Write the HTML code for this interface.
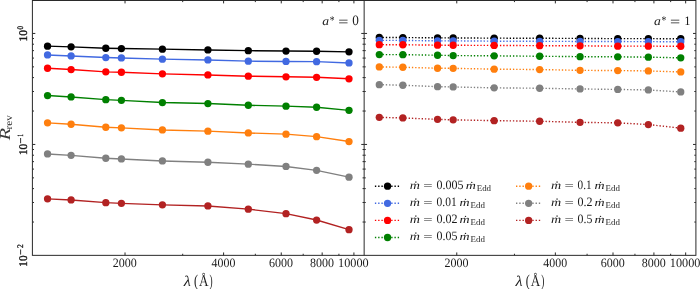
<!DOCTYPE html><html><head><meta charset="utf-8"><title>R_rev vs wavelength</title><style>html,body{margin:0;padding:0;background:#fff;width:700px;height:289px;overflow:hidden}svg{display:block;will-change:transform}text{font-family:"Liberation Serif",serif;text-rendering:geometricPrecision}</style></head><body>
<svg width="700" height="289" viewBox="0 0 700 289">
<defs><clipPath id="c0"><rect x="32.4" y="0.5" width="331.75" height="254.85"/></clipPath><clipPath id="c1"><rect x="364.15" y="0.5" width="331.75" height="254.85"/></clipPath></defs>
<rect width="700" height="289" fill="#fff"/>
<g clip-path="url(#c0)">
<polyline points="47.55,46.15 71.1,46.85 105.8,48.25 121.4,48.55 162.4,49.15 207.9,49.95 248.3,50.65 286,51.05 316.6,51.25 349,51.85" fill="none" stroke="#000000" stroke-width="1.4"/>
<g fill="#000000"><circle cx="47.55" cy="46.15" r="3.65"/><circle cx="71.1" cy="46.85" r="3.65"/><circle cx="105.8" cy="48.25" r="3.65"/><circle cx="121.4" cy="48.55" r="3.65"/><circle cx="162.4" cy="49.15" r="3.65"/><circle cx="207.9" cy="49.95" r="3.65"/><circle cx="248.3" cy="50.65" r="3.65"/><circle cx="286" cy="51.05" r="3.65"/><circle cx="316.6" cy="51.25" r="3.65"/><circle cx="349" cy="51.85" r="3.65"/></g>
<polyline points="47.55,54.95 71.1,55.95 105.8,57.55 121.4,57.95 162.4,59.15 207.9,59.95 248.3,61.15 286,61.45 316.6,61.65 349,62.95" fill="none" stroke="#4169e1" stroke-width="1.4"/>
<g fill="#4169e1"><circle cx="47.55" cy="54.95" r="3.65"/><circle cx="71.1" cy="55.95" r="3.65"/><circle cx="105.8" cy="57.55" r="3.65"/><circle cx="121.4" cy="57.95" r="3.65"/><circle cx="162.4" cy="59.15" r="3.65"/><circle cx="207.9" cy="59.95" r="3.65"/><circle cx="248.3" cy="61.15" r="3.65"/><circle cx="286" cy="61.45" r="3.65"/><circle cx="316.6" cy="61.65" r="3.65"/><circle cx="349" cy="62.95" r="3.65"/></g>
<polyline points="47.55,68.25 71.1,69.55 105.8,71.85 121.4,72.25 162.4,73.85 207.9,74.95 248.3,76.2 286,76.8 316.6,77.3 349,78.8" fill="none" stroke="#ff0000" stroke-width="1.4"/>
<g fill="#ff0000"><circle cx="47.55" cy="68.25" r="3.65"/><circle cx="71.1" cy="69.55" r="3.65"/><circle cx="105.8" cy="71.85" r="3.65"/><circle cx="121.4" cy="72.25" r="3.65"/><circle cx="162.4" cy="73.85" r="3.65"/><circle cx="207.9" cy="74.95" r="3.65"/><circle cx="248.3" cy="76.2" r="3.65"/><circle cx="286" cy="76.8" r="3.65"/><circle cx="316.6" cy="77.3" r="3.65"/><circle cx="349" cy="78.8" r="3.65"/></g>
<polyline points="47.55,95.55 71.1,96.95 105.8,99.65 121.4,100.35 162.4,102.55 207.9,103.55 248.3,105.25 286,106.15 316.6,107.25 349,110.35" fill="none" stroke="#008000" stroke-width="1.4"/>
<g fill="#008000"><circle cx="47.55" cy="95.55" r="3.65"/><circle cx="71.1" cy="96.95" r="3.65"/><circle cx="105.8" cy="99.65" r="3.65"/><circle cx="121.4" cy="100.35" r="3.65"/><circle cx="162.4" cy="102.55" r="3.65"/><circle cx="207.9" cy="103.55" r="3.65"/><circle cx="248.3" cy="105.25" r="3.65"/><circle cx="286" cy="106.15" r="3.65"/><circle cx="316.6" cy="107.25" r="3.65"/><circle cx="349" cy="110.35" r="3.65"/></g>
<polyline points="47.55,122.85 71.1,124.25 105.8,127.25 121.4,127.85 162.4,129.95 207.9,131.15 248.3,132.95 286,134.15 316.6,136.65 349,141.55" fill="none" stroke="#ff7f0e" stroke-width="1.4"/>
<g fill="#ff7f0e"><circle cx="47.55" cy="122.85" r="3.65"/><circle cx="71.1" cy="124.25" r="3.65"/><circle cx="105.8" cy="127.25" r="3.65"/><circle cx="121.4" cy="127.85" r="3.65"/><circle cx="162.4" cy="129.95" r="3.65"/><circle cx="207.9" cy="131.15" r="3.65"/><circle cx="248.3" cy="132.95" r="3.65"/><circle cx="286" cy="134.15" r="3.65"/><circle cx="316.6" cy="136.65" r="3.65"/><circle cx="349" cy="141.55" r="3.65"/></g>
<polyline points="47.55,153.95 71.1,155.35 105.8,158.25 121.4,158.95 162.4,160.95 207.9,162.25 248.3,164.15 286,166.45 316.6,170.35 349,177.15" fill="none" stroke="#808080" stroke-width="1.4"/>
<g fill="#808080"><circle cx="47.55" cy="153.95" r="3.65"/><circle cx="71.1" cy="155.35" r="3.65"/><circle cx="105.8" cy="158.25" r="3.65"/><circle cx="121.4" cy="158.95" r="3.65"/><circle cx="162.4" cy="160.95" r="3.65"/><circle cx="207.9" cy="162.25" r="3.65"/><circle cx="248.3" cy="164.15" r="3.65"/><circle cx="286" cy="166.45" r="3.65"/><circle cx="316.6" cy="170.35" r="3.65"/><circle cx="349" cy="177.15" r="3.65"/></g>
<polyline points="47.55,198.85 71.1,199.95 105.8,202.65 121.4,203.35 162.4,204.85 207.9,205.95 248.3,209.15 286,213.65 316.6,220.05 349,229.65" fill="none" stroke="#b22222" stroke-width="1.4"/>
<g fill="#b22222"><circle cx="47.55" cy="198.85" r="3.65"/><circle cx="71.1" cy="199.95" r="3.65"/><circle cx="105.8" cy="202.65" r="3.65"/><circle cx="121.4" cy="203.35" r="3.65"/><circle cx="162.4" cy="204.85" r="3.65"/><circle cx="207.9" cy="205.95" r="3.65"/><circle cx="248.3" cy="209.15" r="3.65"/><circle cx="286" cy="213.65" r="3.65"/><circle cx="316.6" cy="220.05" r="3.65"/><circle cx="349" cy="229.65" r="3.65"/></g>
</g>
<g clip-path="url(#c1)">
<polyline points="379.3,37.45 402.85,37.55 437.55,37.85 453.15,37.95 494.15,38.15 539.65,38.25 580.05,38.45 617.75,38.65 648.35,38.65 680.75,38.75" fill="none" stroke="#000000" stroke-width="1.4" stroke-dasharray="1.35 1.91"/>
<g fill="#000000"><circle cx="379.3" cy="37.45" r="3.65"/><circle cx="402.85" cy="37.55" r="3.65"/><circle cx="437.55" cy="37.85" r="3.65"/><circle cx="453.15" cy="37.95" r="3.65"/><circle cx="494.15" cy="38.15" r="3.65"/><circle cx="539.65" cy="38.25" r="3.65"/><circle cx="580.05" cy="38.45" r="3.65"/><circle cx="617.75" cy="38.65" r="3.65"/><circle cx="648.35" cy="38.65" r="3.65"/><circle cx="680.75" cy="38.75" r="3.65"/></g>
<polyline points="379.3,40.35 402.85,40.45 437.55,40.85 453.15,40.85 494.15,41.15 539.65,41.35 580.05,41.45 617.75,41.55 648.35,41.65 680.75,41.75" fill="none" stroke="#4169e1" stroke-width="1.4" stroke-dasharray="1.35 1.91"/>
<g fill="#4169e1"><circle cx="379.3" cy="40.35" r="3.65"/><circle cx="402.85" cy="40.45" r="3.65"/><circle cx="437.55" cy="40.85" r="3.65"/><circle cx="453.15" cy="40.85" r="3.65"/><circle cx="494.15" cy="41.15" r="3.65"/><circle cx="539.65" cy="41.35" r="3.65"/><circle cx="580.05" cy="41.45" r="3.65"/><circle cx="617.75" cy="41.55" r="3.65"/><circle cx="648.35" cy="41.65" r="3.65"/><circle cx="680.75" cy="41.75" r="3.65"/></g>
<polyline points="379.3,44.65 402.85,44.75 437.55,45.15 453.15,45.25 494.15,45.45 539.65,45.65 580.05,45.85 617.75,46.15 648.35,46.15 680.75,46.25" fill="none" stroke="#ff0000" stroke-width="1.4" stroke-dasharray="1.35 1.91"/>
<g fill="#ff0000"><circle cx="379.3" cy="44.65" r="3.65"/><circle cx="402.85" cy="44.75" r="3.65"/><circle cx="437.55" cy="45.15" r="3.65"/><circle cx="453.15" cy="45.25" r="3.65"/><circle cx="494.15" cy="45.45" r="3.65"/><circle cx="539.65" cy="45.65" r="3.65"/><circle cx="580.05" cy="45.85" r="3.65"/><circle cx="617.75" cy="46.15" r="3.65"/><circle cx="648.35" cy="46.15" r="3.65"/><circle cx="680.75" cy="46.25" r="3.65"/></g>
<polyline points="379.3,54.55 402.85,54.65 437.55,55.25 453.15,55.55 494.15,55.85 539.65,56.25 580.05,56.65 617.75,56.85 648.35,57.15 680.75,57.85" fill="none" stroke="#008000" stroke-width="1.4" stroke-dasharray="1.35 1.91"/>
<g fill="#008000"><circle cx="379.3" cy="54.55" r="3.65"/><circle cx="402.85" cy="54.65" r="3.65"/><circle cx="437.55" cy="55.25" r="3.65"/><circle cx="453.15" cy="55.55" r="3.65"/><circle cx="494.15" cy="55.85" r="3.65"/><circle cx="539.65" cy="56.25" r="3.65"/><circle cx="580.05" cy="56.65" r="3.65"/><circle cx="617.75" cy="56.85" r="3.65"/><circle cx="648.35" cy="57.15" r="3.65"/><circle cx="680.75" cy="57.85" r="3.65"/></g>
<polyline points="379.3,66.95 402.85,67.25 437.55,68.25 453.15,68.35 494.15,69.15 539.65,69.55 580.05,70.35 617.75,70.55 648.35,70.95 680.75,71.95" fill="none" stroke="#ff7f0e" stroke-width="1.4" stroke-dasharray="1.35 1.91"/>
<g fill="#ff7f0e"><circle cx="379.3" cy="66.95" r="3.65"/><circle cx="402.85" cy="67.25" r="3.65"/><circle cx="437.55" cy="68.25" r="3.65"/><circle cx="453.15" cy="68.35" r="3.65"/><circle cx="494.15" cy="69.15" r="3.65"/><circle cx="539.65" cy="69.55" r="3.65"/><circle cx="580.05" cy="70.35" r="3.65"/><circle cx="617.75" cy="70.55" r="3.65"/><circle cx="648.35" cy="70.95" r="3.65"/><circle cx="680.75" cy="71.95" r="3.65"/></g>
<polyline points="379.3,84.65 402.85,85.25 437.55,86.65 453.15,86.95 494.15,87.85 539.65,88.25 580.05,88.95 617.75,89.45 648.35,89.95 680.75,91.95" fill="none" stroke="#808080" stroke-width="1.4" stroke-dasharray="1.35 1.91"/>
<g fill="#808080"><circle cx="379.3" cy="84.65" r="3.65"/><circle cx="402.85" cy="85.25" r="3.65"/><circle cx="437.55" cy="86.65" r="3.65"/><circle cx="453.15" cy="86.95" r="3.65"/><circle cx="494.15" cy="87.85" r="3.65"/><circle cx="539.65" cy="88.25" r="3.65"/><circle cx="580.05" cy="88.95" r="3.65"/><circle cx="617.75" cy="89.45" r="3.65"/><circle cx="648.35" cy="89.95" r="3.65"/><circle cx="680.75" cy="91.95" r="3.65"/></g>
<polyline points="379.3,117.35 402.85,117.95 437.55,119.35 453.15,119.85 494.15,120.65 539.65,121.25 580.05,122.35 617.75,122.85 648.35,124.55 680.75,128.15" fill="none" stroke="#b22222" stroke-width="1.4" stroke-dasharray="1.35 1.91"/>
<g fill="#b22222"><circle cx="379.3" cy="117.35" r="3.65"/><circle cx="402.85" cy="117.95" r="3.65"/><circle cx="437.55" cy="119.35" r="3.65"/><circle cx="453.15" cy="119.85" r="3.65"/><circle cx="494.15" cy="120.65" r="3.65"/><circle cx="539.65" cy="121.25" r="3.65"/><circle cx="580.05" cy="122.35" r="3.65"/><circle cx="617.75" cy="122.85" r="3.65"/><circle cx="648.35" cy="124.55" r="3.65"/><circle cx="680.75" cy="128.15" r="3.65"/></g>
</g>
<path d="M125.03 255.35v-2.9M125.03 0.5v2.9M182.69 255.35v-1.6M182.69 0.5v1.6M223.6 255.35v-2.9M223.6 0.5v2.9M255.34 255.35v-1.6M255.34 0.5v1.6M281.26 255.35v-2.9M281.26 0.5v2.9M303.19 255.35v-1.6M303.19 0.5v1.6M322.17 255.35v-2.9M322.17 0.5v2.9M338.92 255.35v-1.6M338.92 0.5v1.6M353.91 255.35v-2.9M353.91 0.5v2.9M32.4 33.45h2.9M364.15 33.45h-2.9M32.4 144.45h2.9M364.15 144.45h-2.9M32.4 111.04h1.6M364.15 111.04h-1.6M32.4 91.49h1.6M364.15 91.49h-1.6M32.4 77.62h1.6M364.15 77.62h-1.6M32.4 66.86h1.6M364.15 66.86h-1.6M32.4 58.08h1.6M364.15 58.08h-1.6M32.4 50.64h1.6M364.15 50.64h-1.6M32.4 44.21h1.6M364.15 44.21h-1.6M32.4 38.53h1.6M364.15 38.53h-1.6M32.4 222.04h1.6M364.15 222.04h-1.6M32.4 202.49h1.6M364.15 202.49h-1.6M32.4 188.62h1.6M364.15 188.62h-1.6M32.4 177.86h1.6M364.15 177.86h-1.6M32.4 169.08h1.6M364.15 169.08h-1.6M32.4 161.64h1.6M364.15 161.64h-1.6M32.4 155.21h1.6M364.15 155.21h-1.6M32.4 149.53h1.6M364.15 149.53h-1.6M456.78 255.35v-2.9M456.78 0.5v2.9M514.44 255.35v-1.6M514.44 0.5v1.6M555.35 255.35v-2.9M555.35 0.5v2.9M587.09 255.35v-1.6M587.09 0.5v1.6M613.01 255.35v-2.9M613.01 0.5v2.9M634.94 255.35v-1.6M634.94 0.5v1.6M653.92 255.35v-2.9M653.92 0.5v2.9M670.67 255.35v-1.6M670.67 0.5v1.6M685.66 255.35v-2.9M685.66 0.5v2.9M364.15 33.45h2.9M695.9 33.45h-2.9M364.15 144.45h2.9M695.9 144.45h-2.9M364.15 111.04h1.6M695.9 111.04h-1.6M364.15 91.49h1.6M695.9 91.49h-1.6M364.15 77.62h1.6M695.9 77.62h-1.6M364.15 66.86h1.6M695.9 66.86h-1.6M364.15 58.08h1.6M695.9 58.08h-1.6M364.15 50.64h1.6M695.9 50.64h-1.6M364.15 44.21h1.6M695.9 44.21h-1.6M364.15 38.53h1.6M695.9 38.53h-1.6M364.15 222.04h1.6M695.9 222.04h-1.6M364.15 202.49h1.6M695.9 202.49h-1.6M364.15 188.62h1.6M695.9 188.62h-1.6M364.15 177.86h1.6M695.9 177.86h-1.6M364.15 169.08h1.6M695.9 169.08h-1.6M364.15 161.64h1.6M695.9 161.64h-1.6M364.15 155.21h1.6M695.9 155.21h-1.6M364.15 149.53h1.6M695.9 149.53h-1.6" stroke="#2a2a2a" stroke-width="1.0" fill="none"/>
<rect x="32.4" y="0.5" width="663.5" height="254.85" fill="none" stroke="#2a2a2a" stroke-width="1.0"/>
<path d="M364.15 0.5V255.35" stroke="#2a2a2a" stroke-width="1.0"/>
<text transform="translate(112.75 266.93) scale(0.9450 1.0000)" font-size="12.74" fill="#1a1a1a">2000</text>
<text transform="translate(211.62 266.93) scale(0.9332 1.0000)" font-size="12.74" fill="#1a1a1a">4000</text>
<text transform="translate(269 266.93) scale(0.9446 1.0000)" font-size="12.74" fill="#1a1a1a">6000</text>
<text transform="translate(309.97 266.93) scale(0.9422 1.0000)" font-size="12.74" fill="#1a1a1a">8000</text>
<text transform="translate(338.08 266.93) scale(0.9618 1.0000)" font-size="12.74" fill="#1a1a1a">10000</text>
<text transform="translate(183.65 285.65) scale(1.1111 1.0000)" font-size="14.77" font-style="italic" fill="#1a1a1a">λ</text>
<text transform="translate(194.02 285.63) scale(0.7296 1.0000)" font-size="16.54" fill="#1a1a1a">(</text>
<text transform="translate(198.92 285.65) scale(0.8192 1.0000)" font-size="16.1" fill="#1a1a1a">Å</text>
<text transform="translate(209.45 285.63) scale(0.5649 1.0000)" font-size="16.54" fill="#1a1a1a">)</text>
<text transform="translate(444.5 266.93) scale(0.9450 1.0000)" font-size="12.74" fill="#1a1a1a">2000</text>
<text transform="translate(543.37 266.93) scale(0.9332 1.0000)" font-size="12.74" fill="#1a1a1a">4000</text>
<text transform="translate(600.75 266.93) scale(0.9446 1.0000)" font-size="12.74" fill="#1a1a1a">6000</text>
<text transform="translate(641.72 266.93) scale(0.9422 1.0000)" font-size="12.74" fill="#1a1a1a">8000</text>
<text transform="translate(669.83 266.93) scale(0.9618 1.0000)" font-size="12.74" fill="#1a1a1a">10000</text>
<text transform="translate(515.4 285.65) scale(1.1111 1.0000)" font-size="14.77" font-style="italic" fill="#1a1a1a">λ</text>
<text transform="translate(525.77 285.63) scale(0.7296 1.0000)" font-size="16.54" fill="#1a1a1a">(</text>
<text transform="translate(530.67 285.65) scale(0.8192 1.0000)" font-size="16.1" fill="#1a1a1a">Å</text>
<text transform="translate(541.2 285.63) scale(0.5649 1.0000)" font-size="16.54" fill="#1a1a1a">)</text>
<text transform="translate(27.04 41.45) rotate(-90) scale(0.9675 1.0000)" font-size="11.71" fill="#1a1a1a" stroke="#1a1a1a" stroke-width="0.35">10</text>
<text transform="translate(22.77 29.62) rotate(-90) scale(0.8529 1.0000)" font-size="8.3" fill="#1a1a1a" stroke="#1a1a1a" stroke-width="0.35">0</text>
<text transform="translate(27.04 155.08) rotate(-90) scale(0.9480 1.0000)" font-size="11.71" fill="#1a1a1a" stroke="#1a1a1a" stroke-width="0.35">10</text>
<text transform="translate(23.83 143.57) rotate(-90) scale(1.0489 1.0000)" font-size="10.04" fill="#1a1a1a" stroke="#1a1a1a" stroke-width="0.35">−</text>
<text transform="translate(22.55 136.45) rotate(-90) scale(0.5556 1.0000)" font-size="8.18" fill="#1a1a1a" stroke="#1a1a1a" stroke-width="0.35">1</text>
<text transform="translate(27.04 266.69) rotate(-90) scale(0.9578 1.0000)" font-size="11.71" fill="#1a1a1a" stroke="#1a1a1a" stroke-width="0.35">10</text>
<text transform="translate(23.83 254.79) rotate(-90) scale(0.9847 1.0000)" font-size="10.04" fill="#1a1a1a" stroke="#1a1a1a" stroke-width="0.35">−</text>
<text transform="translate(22.55 248.08) rotate(-90) scale(0.8848 1.0000)" font-size="8.46" fill="#1a1a1a" stroke="#1a1a1a" stroke-width="0.35">2</text>
<text transform="translate(10.35 140.34) rotate(-90) scale(1.3213 1.0000)" font-size="15.27" font-style="italic" fill="#3a3a3a">R</text>
<text transform="translate(12.35 129.47) rotate(-90) scale(1.1241 1.0000)" font-size="9.98" fill="#1a1a1a">rev</text>
<text transform="translate(322.24 24.62) scale(1.1117 1.0000)" font-size="12.27" font-style="italic" fill="#1a1a1a">a</text>
<text transform="translate(329.68 24.03) scale(0.8246 1.0000)" font-size="11.73" fill="#1a1a1a">*</text>
<text transform="translate(338.25 26.27) scale(1.3273 1.0000)" font-size="13.6" fill="#1a1a1a">=</text>
<text transform="translate(654.04 24.62) scale(1.1117 1.0000)" font-size="12.27" font-style="italic" fill="#1a1a1a">a</text>
<text transform="translate(661.48 24.03) scale(0.8246 1.0000)" font-size="11.73" fill="#1a1a1a">*</text>
<text transform="translate(670.05 26.27) scale(1.3273 1.0000)" font-size="13.6" fill="#1a1a1a">=</text>
<text transform="translate(352.15 25.11) scale(0.9288 1.0000)" font-size="14.23" fill="#1a1a1a">0</text>
<text transform="translate(684.15 24.75) scale(0.9707 1.0000)" font-size="12.88" fill="#1a1a1a">1</text>
<path d="M374.9 186.2H400.2" stroke="#000000" stroke-width="1.4" stroke-dasharray="1.35 1.91"/>
<circle cx="387.55" cy="186.2" r="3.65" fill="#000000"/>
<text transform="translate(409.84 188.55) scale(1.2310 1.0000)" font-size="11.48" font-style="italic" fill="#1a1a1a">ṁ</text>
<text transform="translate(423.33 188.97) scale(1.4774 1.0000)" font-size="11.2" fill="#1a1a1a">=</text>
<text transform="translate(436.49 188.77) scale(0.9389 1.0000)" font-size="12.81" fill="#1a1a1a">0.005</text>
<text transform="translate(465.67 188.55) scale(1.2675 1.0000)" font-size="11.03" font-style="italic" fill="#1a1a1a">ṁ</text>
<text transform="translate(476.72 190.67) scale(1.0287 1.0000)" font-size="8.67" fill="#1a1a1a">Edd</text>
<path d="M374.9 203.3H400.2" stroke="#4169e1" stroke-width="1.4" stroke-dasharray="1.35 1.91"/>
<circle cx="387.55" cy="203.3" r="3.65" fill="#4169e1"/>
<text transform="translate(409.84 205.65) scale(1.2310 1.0000)" font-size="11.48" font-style="italic" fill="#1a1a1a">ṁ</text>
<text transform="translate(423.33 206.07) scale(1.4774 1.0000)" font-size="11.2" fill="#1a1a1a">=</text>
<text transform="translate(436.51 205.87) scale(0.9006 1.0000)" font-size="12.81" fill="#1a1a1a">0.01</text>
<text transform="translate(459.57 205.65) scale(1.2675 1.0000)" font-size="11.03" font-style="italic" fill="#1a1a1a">ṁ</text>
<text transform="translate(470.62 207.77) scale(1.0287 1.0000)" font-size="8.67" fill="#1a1a1a">Edd</text>
<path d="M374.9 220.4H400.2" stroke="#ff0000" stroke-width="1.4" stroke-dasharray="1.35 1.91"/>
<circle cx="387.55" cy="220.4" r="3.65" fill="#ff0000"/>
<text transform="translate(409.84 222.75) scale(1.2310 1.0000)" font-size="11.48" font-style="italic" fill="#1a1a1a">ṁ</text>
<text transform="translate(423.33 223.17) scale(1.4774 1.0000)" font-size="11.2" fill="#1a1a1a">=</text>
<text transform="translate(436.49 222.97) scale(0.9439 1.0000)" font-size="12.81" fill="#1a1a1a">0.02</text>
<text transform="translate(459.57 222.75) scale(1.2675 1.0000)" font-size="11.03" font-style="italic" fill="#1a1a1a">ṁ</text>
<text transform="translate(470.62 224.87) scale(1.0287 1.0000)" font-size="8.67" fill="#1a1a1a">Edd</text>
<path d="M374.9 237.5H400.2" stroke="#008000" stroke-width="1.4" stroke-dasharray="1.35 1.91"/>
<circle cx="387.55" cy="237.5" r="3.65" fill="#008000"/>
<text transform="translate(409.84 239.85) scale(1.2310 1.0000)" font-size="11.48" font-style="italic" fill="#1a1a1a">ṁ</text>
<text transform="translate(423.33 240.27) scale(1.4774 1.0000)" font-size="11.2" fill="#1a1a1a">=</text>
<text transform="translate(436.49 240.07) scale(0.9348 1.0000)" font-size="12.81" fill="#1a1a1a">0.05</text>
<text transform="translate(459.57 239.85) scale(1.2675 1.0000)" font-size="11.03" font-style="italic" fill="#1a1a1a">ṁ</text>
<text transform="translate(470.62 241.97) scale(1.0287 1.0000)" font-size="8.67" fill="#1a1a1a">Edd</text>
<path d="M516 186.2H541.3" stroke="#ff7f0e" stroke-width="1.4" stroke-dasharray="1.35 1.91"/>
<circle cx="528.65" cy="186.2" r="3.65" fill="#ff7f0e"/>
<text transform="translate(550.94 188.55) scale(1.2310 1.0000)" font-size="11.48" font-style="italic" fill="#1a1a1a">ṁ</text>
<text transform="translate(564.43 188.97) scale(1.4774 1.0000)" font-size="11.2" fill="#1a1a1a">=</text>
<text transform="translate(577.62 188.77) scale(0.8781 1.0000)" font-size="12.81" fill="#1a1a1a">0.1</text>
<text transform="translate(594.57 188.55) scale(1.2675 1.0000)" font-size="11.03" font-style="italic" fill="#1a1a1a">ṁ</text>
<text transform="translate(605.62 190.67) scale(1.0287 1.0000)" font-size="8.67" fill="#1a1a1a">Edd</text>
<path d="M516 203.3H541.3" stroke="#808080" stroke-width="1.4" stroke-dasharray="1.35 1.91"/>
<circle cx="528.65" cy="203.3" r="3.65" fill="#808080"/>
<text transform="translate(550.94 205.65) scale(1.2310 1.0000)" font-size="11.48" font-style="italic" fill="#1a1a1a">ṁ</text>
<text transform="translate(564.43 206.07) scale(1.4774 1.0000)" font-size="11.2" fill="#1a1a1a">=</text>
<text transform="translate(577.59 205.87) scale(0.9403 1.0000)" font-size="12.81" fill="#1a1a1a">0.2</text>
<text transform="translate(594.57 205.65) scale(1.2675 1.0000)" font-size="11.03" font-style="italic" fill="#1a1a1a">ṁ</text>
<text transform="translate(605.62 207.77) scale(1.0287 1.0000)" font-size="8.67" fill="#1a1a1a">Edd</text>
<path d="M516 220.4H541.3" stroke="#b22222" stroke-width="1.4" stroke-dasharray="1.35 1.91"/>
<circle cx="528.65" cy="220.4" r="3.65" fill="#b22222"/>
<text transform="translate(550.94 222.75) scale(1.2310 1.0000)" font-size="11.48" font-style="italic" fill="#1a1a1a">ṁ</text>
<text transform="translate(564.43 223.17) scale(1.4774 1.0000)" font-size="11.2" fill="#1a1a1a">=</text>
<text transform="translate(577.6 222.97) scale(0.9273 1.0000)" font-size="12.81" fill="#1a1a1a">0.5</text>
<text transform="translate(594.57 222.75) scale(1.2675 1.0000)" font-size="11.03" font-style="italic" fill="#1a1a1a">ṁ</text>
<text transform="translate(605.62 224.87) scale(1.0287 1.0000)" font-size="8.67" fill="#1a1a1a">Edd</text>
</svg></body></html>
